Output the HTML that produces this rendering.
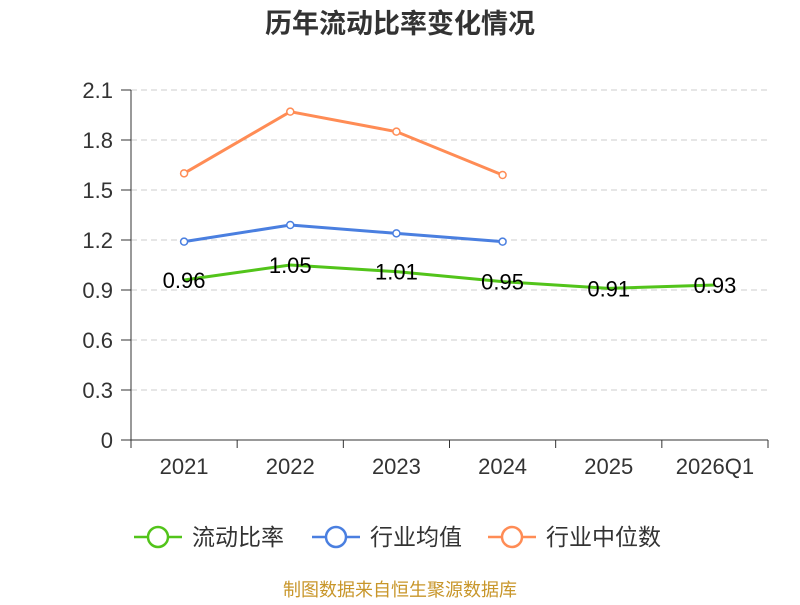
<!DOCTYPE html>
<html><head><meta charset="utf-8">
<style>
body{margin:0;background:#fff;width:800px;height:600px;overflow:hidden;font-family:"Liberation Sans","Noto Sans CJK SC",sans-serif;}
</style></head>
<body>
<svg id="c" width="800" height="600" xmlns="http://www.w3.org/2000/svg" font-family="Liberation Sans, Noto Sans CJK SC, sans-serif">
<text x="400" y="33" text-anchor="middle" font-size="27" font-weight="bold" fill="#333">历年流动比率变化情况</text>
<g id="grid"></g><g id="axes"></g><g id="series"></g><g id="legend"></g>
<text x="400" y="596" text-anchor="middle" font-size="18" fill="#c8962a">制图数据来自恒生聚源数据库</text>
</svg>
<script>
const categories=["2021","2022","2023","2024","2025","2026Q1"];
const yTicks=[0,0.3,0.6,0.9,1.2,1.5,1.8,2.1];
const yTickLabels=["0","0.3","0.6","0.9","1.2","1.5","1.8","2.1"];
const currentRatio=[0.96,1.05,1.01,0.95,0.91,0.93];
const industryAvg=[1.19,1.29,1.24,1.19];
const industryMedian=[1.60,1.97,1.85,1.59];
const NS="http://www.w3.org/2000/svg";
const L=131,R=768,T=90,B=440,yMax=2.1;
const bw=(R-L)/categories.length;
const x=i=>L+bw*(i+0.5);
const y=v=>B-(v/yMax)*(B-T);
function mk(t,a,p){const e=document.createElementNS(NS,t);for(const k in a)e.setAttribute(k,a[k]);p.appendChild(e);return e;}
const grid=document.getElementById('grid'),axes=document.getElementById('axes'),ser=document.getElementById('series'),leg=document.getElementById('legend');
yTicks.forEach((v,i)=>{
 if(v>0){const g=mk('line',{x1:L,x2:R,y1:y(v),y2:y(v),stroke:'#ccc','stroke-dasharray':'6,4'},grid);
 }
 const tk=mk('line',{x1:L-10,x2:L,y1:y(v),y2:y(v),stroke:'#333'},axes);
 
 const t=mk('text',{x:113,y:y(v)+8,'text-anchor':'end','font-size':22,fill:'#333'},axes);t.textContent=yTickLabels[i];
 
});
const ya=mk('line',{x1:L,x2:L,y1:T,y2:B,stroke:'#333'},axes);
const xa=mk('line',{x1:L,x2:R,y1:B,y2:B,stroke:'#333'},axes);
for(let i=0;i<=categories.length;i++){const tk=mk('line',{x1:L+bw*i,x2:L+bw*i,y1:B,y2:B+8,stroke:'#333'},axes);
 }
categories.forEach((c,i)=>{const t=mk('text',{x:x(i),y:B+34,'text-anchor':'middle','font-size':22,fill:'#333'},axes);t.textContent=c;
 });
function line(vals,color,name,markers){
 const p=mk('polyline',{points:vals.map((v,i)=>x(i)+','+y(v)).join(' '),fill:'none',stroke:color,'stroke-width':3},ser);
 
 if(markers)vals.forEach((v,i)=>{const c=mk('circle',{cx:x(i),cy:y(v),r:3.5,fill:'#fff',stroke:color,'stroke-width':1.5},ser);
  });
}
line(industryMedian,'#ff8c55','industry-median',true);
line(industryAvg,'#4a7fe0','industry-average',true);
line(currentRatio,'#52c41a','current-ratio',false);
currentRatio.forEach((v,i)=>{const t=mk('text',{x:x(i),y:y(v)+8,'text-anchor':'middle','font-size':22,fill:'#000'},ser);t.textContent=v.toFixed(2);
 });
const items=[["流动比率","#52c41a",134],["行业均值","#4a7fe0",312],["行业中位数","#ff8c55",488]];
items.forEach(([n,c,lx])=>{const g=mk('g',{},leg);
 mk('line',{x1:lx,x2:lx+48,y1:537,y2:537,stroke:c,'stroke-width':2.5},g);
 mk('circle',{cx:lx+24,cy:537,r:10,fill:'#fff',stroke:c,'stroke-width':2.5},g);
 const t=mk('text',{x:lx+58,y:545,'font-size':23,fill:'#333'},g);t.textContent=n;});
</script>
</body></html>
